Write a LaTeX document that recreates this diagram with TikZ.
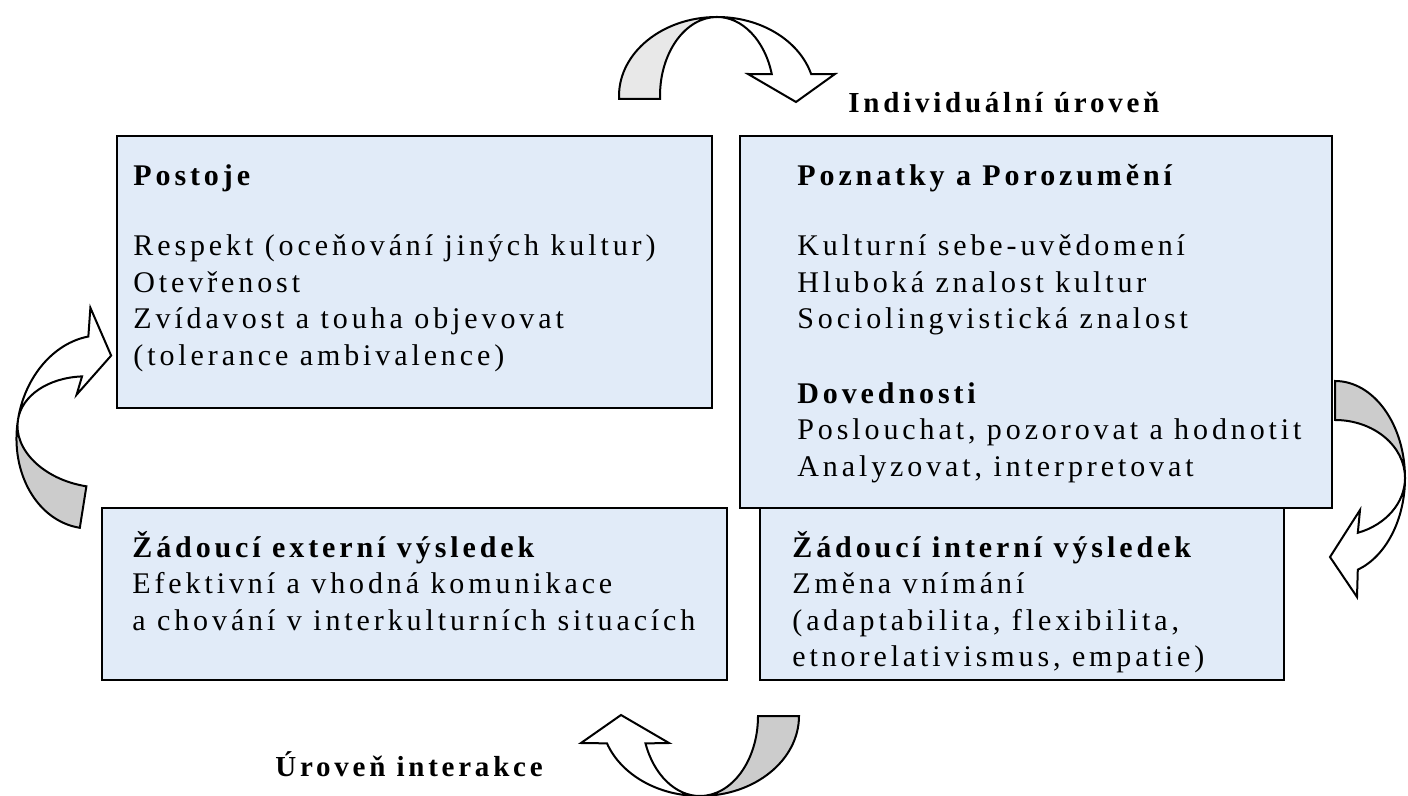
\documentclass[tikz,border=0pt]{standalone}
\usepackage{fontspec}
\setmainfont{Liberation Serif}[LetterSpace=13]
\definecolor{boxfill}{HTML}{E1EBF8}
\definecolor{twistlight}{HTML}{E8E8E8}
\definecolor{twistgrey}{HTML}{CCCCCC}
\begin{document}
\begin{tikzpicture}[
    x=0.5pt, y=0.5pt,
    % Styles
    box/.style={% For the four blue boxes
        rectangle,
        draw,
        line width=1pt,
        fill=boxfill,
        inner sep=0pt,
        outer sep=0pt,
        anchor=north west,
        },
    boxtext/.style={% For the text inside a box
        anchor=north west,
        inner sep=0pt,
        align=left,
        font=\fontsize{15}{18.25}\selectfont,
        },
    level/.style={% For the two level labels
        anchor=base west,
        inner sep=0pt,
        font=\fontsize{14.5}{18.25}\selectfont\bfseries,
        },
    twist/.style={% Back face of a curved arrow
        draw,
        line width=1pt,
        fill=twistgrey,
        },
    flap/.style={% Front face of a curved arrow
        draw,
        line width=1pt,
        fill=white,
        },
    ]
    \useasboundingbox (0,0) rectangle (1408,-796);

    % Draw the boxes
    \node [box, minimum width=297.5pt, minimum height=136pt] (postoje) at (117,-136) {};
    \node [box, minimum width=296pt, minimum height=186pt] (poznatky) at (740,-136) {};
    \node [box, minimum width=312.5pt, minimum height=86pt] (externi) at (102,-508) {};
    \node [box, minimum width=262pt, minimum height=86pt] (interni) at (760,-508) {};

    % Text in the boxes
    \node [boxtext] (postojeText) at (133,-157) {\rule{0pt}{14pt}\textbf{Postoje}\\[17pt]
        Respekt (oceňování jiných kultur)\\
        Otevřenost\\
        Zvídavost a touha objevovat\\
        (tolerance ambivalence)};
    \node [boxtext] (poznatkyText) at (797,-157) {\rule{0pt}{14pt}\textbf{Poznatky a Porozumění}\\[17pt]
        Kulturní sebe-uvědomení\\
        Hluboká znalost kultur\\
        Sociolingvistická znalost\\[19pt]
        \textbf{Dovednosti}\\
        Poslouchat, pozorovat a hodnotit\\
        Analyzovat, interpretovat};
    \node [boxtext] (externiText) at (132,-529) {\rule{0pt}{14pt}\textbf{Žádoucí externí výsledek}\\
        Efektivní a vhodná komunikace\\
        a chování v interkulturních situacích};
    \node [boxtext] (interniText) at (792,-529) {\rule{0pt}{14pt}\textbf{Žádoucí interní výsledek}\\
        Změna vnímání\\
        (adaptabilita, flexibilita,\\
        etnorelativismus, empatie)};

    % Level labels
    \node [level] (individual) at (848,-113) {Individuální úroveň};
    \node [level] (interaction) at (275,-776) {Úroveň interakce};

    % Curved arrows
    % top: over the two upper boxes
    \path [twist, fill=twistlight] (619,-99) -- (619,-96)
        arc [start angle=180, end angle=90, x radius=98, y radius=79]
        arc [start angle=90, end angle=180, x radius=57, y radius=79]
        -- (660,-99) -- cycle;
    \path [flap] (717,-17)
        arc [start angle=90, end angle=16, x radius=98, y radius=79]
        -- (835,-74) -- (796,-102) -- (748,-74) -- (771.8,-74.2)
        arc [start angle=16, end angle=90, x radius=57, y radius=79]
        -- cycle;
    % right: down from the knowledge box
    \path [twist] (1335,-381)
        arc [start angle=90, end angle=0, x radius=70, y radius=97]
        arc [start angle=0, end angle=90, x radius=70, y radius=58]
        -- cycle;
    \path [flap] (1405,-478)
        arc [start angle=0, end angle=-71, x radius=70, y radius=97]
        -- (1357,-597) -- (1330,-557) -- (1360,-510) -- (1357.8,-532.8)
        arc [start angle=-71, end angle=0, x radius=70, y radius=58]
        -- cycle;
    % bottom: under the two outcome boxes
    \path [twist] (799,-716)
        arc [start angle=0, end angle=-90, x radius=99, y radius=80]
        arc [start angle=-90, end angle=0, x radius=58, y radius=80]
        -- cycle;
    \path [flap] (700,-796)
        arc [start angle=-90, end angle=-160, x radius=99, y radius=80]
        -- (581,-743) -- (621,-715) -- (669,-743) -- (645.5,-743.4)
        arc [start angle=-160, end angle=-90, x radius=58, y radius=80]
        -- cycle;
    % left: up to the attitudes box
    \begin{scope}[shift={(95,-432)}, rotate=-9]
        \path [twist] (0,-97)
            arc [start angle=-90, end angle=-180, x radius=78, y radius=97]
            arc [start angle=180, end angle=270, x radius=78, y radius=55]
            -- cycle;
        \path [flap] (-78,0)
            arc [start angle=180, end angle=106, x radius=78, y radius=97]
            -- (-24,122) -- (4,78) -- (-24,34) -- (-21.5,52.9)
            arc [start angle=106, end angle=180, x radius=78, y radius=55]
            -- cycle;
    \end{scope}
\end{tikzpicture}
\end{document}
